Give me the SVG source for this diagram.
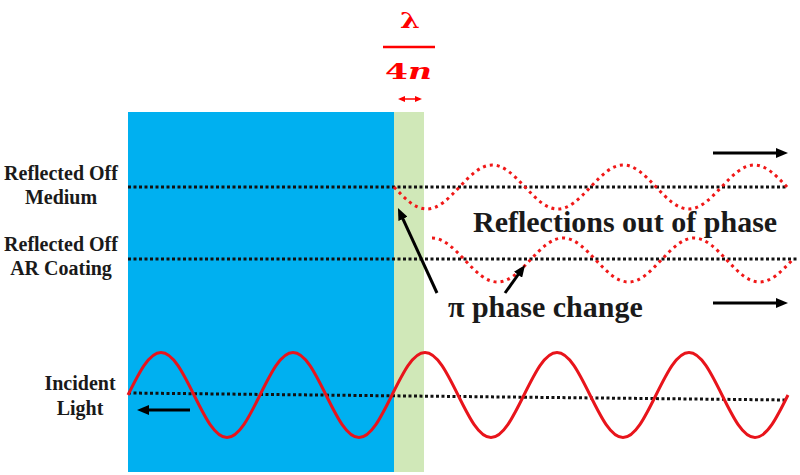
<svg xmlns="http://www.w3.org/2000/svg" width="800" height="475" viewBox="0 0 800 475">
<style>
.lbl{font-family:"Liberation Serif","Times New Roman",serif;font-weight:bold;fill:#1a1a1a;}
.dotk{stroke:#111;stroke-width:3;stroke-dasharray:3 2.5;fill:none;}
.dotr{stroke:#F01818;stroke-width:3;stroke-dasharray:3 4;fill:none;}
.arr{stroke:#000;stroke-width:3;fill:none;marker-end:url(#ah);}
.red{fill:#FF0000;font-family:"DejaVu Serif","Liberation Serif",serif;font-weight:bold;}
</style>
<defs>
<marker id="ah" markerUnits="userSpaceOnUse" markerWidth="12" markerHeight="10" viewBox="0 0 12 10" refX="4" refY="5" orient="auto">
<path d="M0,0 L12,5 L0,10 z" fill="#000"/>
</marker>
<marker id="rh" markerUnits="userSpaceOnUse" markerWidth="7" markerHeight="6" viewBox="0 0 7 6" refX="5" refY="3" orient="auto-start-reverse">
<path d="M0,0 L7,3 L0,6 z" fill="#FF0000"/>
</marker>
</defs>
<rect width="800" height="475" fill="#fff"/>
<g id="medium"><rect x="128" y="112" width="266" height="360" fill="#00B0F0"/></g>
<g id="coating"><rect x="394" y="112" width="30" height="360" fill="#D0E8B8"/></g>
<g id="thickness">
<text class="red" x="400" y="28" font-size="22" textLength="20" lengthAdjust="spacingAndGlyphs">λ</text>
<line x1="383" y1="47" x2="435" y2="47" stroke="#FF0000" stroke-width="2.5"/>
<text class="red" x="385" y="79" font-size="23" textLength="47" lengthAdjust="spacingAndGlyphs">4<tspan font-style="italic">n</tspan></text>
<line x1="400" y1="99" x2="420" y2="99" stroke="#FF0000" stroke-width="1.5" marker-start="url(#rh)" marker-end="url(#rh)"/>
</g>
<g id="labels">
<text class="lbl" font-size="20" text-anchor="middle" x="61" y="180">Reflected Off</text>
<text class="lbl" font-size="20" text-anchor="middle" x="61" y="204">Medium</text>
<text class="lbl" font-size="20" text-anchor="middle" x="61" y="251">Reflected Off</text>
<text class="lbl" font-size="20" text-anchor="middle" x="61" y="275">AR Coating</text>
<text class="lbl" font-size="20" text-anchor="middle" x="80" y="390">Incident</text>
<text class="lbl" font-size="20" text-anchor="middle" x="80" y="415">Light</text>
<text class="lbl" font-size="30" x="473" y="232">Reflections out of phase</text>
<text class="lbl" font-size="30" x="448" y="317">π phase change</text>
</g>
<g id="connectors">
<line class="dotk" x1="128" y1="187" x2="787" y2="187"/>
<line class="dotk" x1="128" y1="259" x2="797" y2="259"/>
<line class="dotk" x1="128" y1="393" x2="787" y2="400"/>
<path id="incident-wave" fill="none" stroke="#E8141B" stroke-width="3" d="M128,395 c11.03,-22.32 21.07,-42.5 33,-42.5 s21.97,20.18 33,42.5 s21.07,42.5 33,42.5 s21.97,-20.18 33,-42.5 s21.07,-42.5 33,-42.5 s21.97,20.18 33,42.5 s21.07,42.5 33,42.5 s21.97,-20.18 33,-42.5 s21.07,-42.5 33,-42.5 s21.97,20.18 33,42.5 s21.07,42.5 33,42.5 s21.97,-20.18 33,-42.5 s21.07,-42.5 33,-42.5 s21.97,20.18 33,42.5 s21.07,42.5 33,42.5 s21.97,-20.18 33,-42.5 s21.07,-42.5 33,-42.5 s21.97,20.18 33,42.5 s21.07,42.5 33,42.5 s21.97,-20.18 33,-42.5"/>
<path id="reflect-medium" class="dotr" d="M394,187 c10.95,11.55 20.91,22 32.75,22 s21.80,-10.45 32.75,-22 s20.91,-22 32.75,-22 s21.80,10.45 32.75,22 s20.91,22 32.75,22 s21.80,-10.45 32.75,-22 s20.91,-22 32.75,-22 s21.80,10.45 32.75,22 s20.91,22 32.75,22 s21.80,-10.45 32.75,-22 s20.91,-22 32.75,-22 s21.80,10.45 32.75,22"/>
<path id="reflect-coating" class="dotr" d="M432,238 c11.84,0 21.80,10.45 32.75,22 s20.91,22 32.75,22 s21.80,-10.45 32.75,-22 s20.91,-22 32.75,-22 s21.80,10.45 32.75,22 s20.91,22 32.75,22 s21.80,-10.45 32.75,-22 s20.91,-22 32.75,-22 s21.80,10.45 32.75,22 s20.91,22 32.75,22 s21.80,-10.45 32.75,-22"/>
<line class="arr" x1="713" y1="153" x2="780" y2="153"/>
<line class="arr" x1="713" y1="303" x2="780" y2="303"/>
<line class="arr" x1="190" y1="410" x2="145" y2="410"/>
<line class="arr" x1="437" y1="293" x2="401.3" y2="215.3"/>
<line class="arr" x1="505" y1="293" x2="520.4" y2="271.5"/>
</g>
</svg>
